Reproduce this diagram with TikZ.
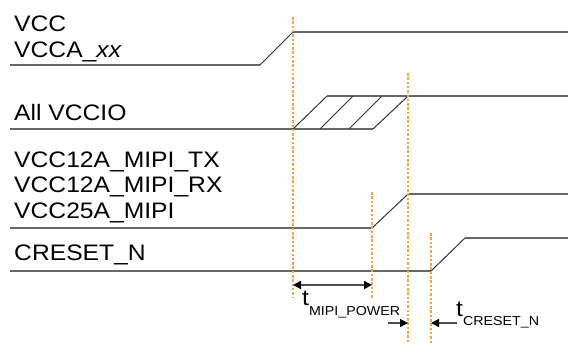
\documentclass[tikz,border=0pt]{standalone}
\usepackage{fontspec}
\setmainfont[FakeStretch=1.1]{Liberation Sans}
\usetikzlibrary{arrows.meta}
\definecolor{guideorange}{HTML}{F6A443}
\newcommand{\subfont}{\fontsize{13}{13}\selectfont}

\begin{document}
\begin{tikzpicture}[
        x=1bp, y=-1bp,
        sig/.style={line width=1.6bp, black!60},
        ramp/.style={line width=1bp, black!80},
        guide/.style={guideorange, line width=1.2bp, dash pattern=on 2.5bp off 1.8bp},
        lbl/.style={anchor=base west, inner sep=0pt, align=left,
                    font=\fontsize{22.5}{25.5}\selectfont},
        tlbl/.style={anchor=base west, inner sep=0pt, font=\fontsize{22.5}{25}\selectfont},
        meas/.style={line width=1.4bp, black!70},
        tip/.style={-{Triangle[length=8bp, width=8bp, black]}},
    ]
    \useasboundingbox (0,0) rectangle (568,343);

    % signal names (base = last line)
    \node[lbl] (vcc) at (14,57) {VCC\\VCCA\_\textit{xx}};
    \node[lbl] (vccio) at (14,120) {All VCCIO};
    \node[lbl] (mipi) at (14,218) {VCC12A\_MIPI\_TX\\VCC12A\_MIPI\_RX\\VCC25A\_MIPI};
    \node[lbl] (creset) at (14,260) {CRESET\_N};

    % waveforms
    \draw[sig] (10,65) -- (260,65);
    \draw[ramp] (260,65) -- (293,32);
    \draw[sig] (293,32) -- (568,32);

    \draw[sig] (10,129) -- (373,129);
    \draw[sig] (327,96) -- (568,96);
    \foreach \a/\b in {293/327, 320/353, 349/382, 373/408}
        \draw[ramp] (\a,129) -- (\b,96);

    \draw[sig] (10,228) -- (372,228);
    \draw[ramp] (372,228) -- (408,194);
    \draw[sig] (408,194) -- (568,194);

    \draw[sig] (10,271) -- (431,271);
    \draw[ramp] (431,271) -- (465,238);
    \draw[sig] (465,238) -- (568,238);

    % timing guides
    \draw[guide] (293,17) -- (293,297);
    \draw[guide] (408,73) -- (408,343);
    \draw[guide] (372,192) -- (372,298);
    \draw[guide] (431,233) -- (431,343);

    % timing measures
    \coordinate (pwrA) at (293,285);
    \coordinate (pwrB) at (372,285);
    \coordinate (rdyA) at (388,323);
    \coordinate (rdyB) at (408,323);
    \coordinate (rstA) at (457,323);
    \coordinate (rstB) at (431,323);
    \draw[meas, {Triangle[length=8bp, width=8bp, black]}-{Triangle[length=8bp, width=8bp, black]}] (pwrA) -- (pwrB);
    \draw[meas, tip] (rdyA) -- (rdyB);
    \draw[meas, tip] (rstA) -- (rstB);

    \node[tlbl] (tmipi) at (302,305) {t\raisebox{-10bp}{\subfont MIPI\_POWER}};
    \node[tlbl] (tcreset) at (456,316.5) {t\raisebox{-8.5bp}{\subfont CRESET\_N}};
\end{tikzpicture}
\end{document}
